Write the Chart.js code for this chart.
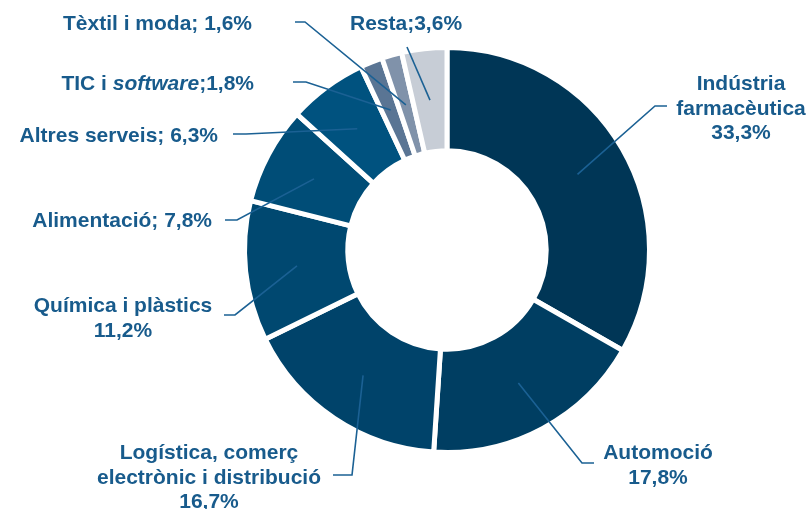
<!DOCTYPE html>
<html>
<head>
<meta charset="utf-8">
<script src="https://cdn.jsdelivr.net/npm/chart.js@4/dist/chart.umd.min.js"></script>
<style>
  html, body { margin: 0; padding: 0; background: #fff; }
  #wrap { width: 810px; height: 509px; position: relative; }
</style>
</head>
<body>
<div id="wrap"><canvas id="chart" width="810" height="509"></canvas></div>
<script>
// sectors, clockwise from 12 o'clock
const categories = [
  'Indústria farmacèutica', 'Automoció', 'Logística, comerç electrònic i distribució',
  'Química i plàstics', 'Alimentació', 'Altres serveis', 'TIC i software',
  'Tèxtil i moda', 'Resta'
]
const shares = [33.3, 17.8, 16.7, 11.2, 7.8, 6.3, 1.8, 1.6, 3.6]
const sliceColors = [
  '#003656', '#003e62', '#00436a', '#004870', '#004d77', '#00527f',
  '#5a7594', '#8092aa', '#c7cdd6'
]

// label lines; {v} is replaced by the share, *...* is set in italics
const labelLines = [
  ['Indústria', 'farmacèutica', '{v}'],
  ['Automoció', '{v}'],
  ['Logística, comerç', 'electrònic i distribució', '{v}'],
  ['Química i plàstics', '{v}'],
  ['Alimentació; {v}'],
  ['Altres serveis; {v}'],
  ['TIC i *software*;{v}'],
  ['Tèxtil i moda; {v}'],
  ['Resta;{v}']
]

// where each label sits and how its leader bends (leader starts at the slice centre)
const labelLayout = [
  { x: 741, y: 90, align: 'center', bend: [[655, 106], [667, 106]] },
  { x: 658, y: 459, align: 'center', bend: [[582, 463], [594, 463]] },
  { x: 209, y: 459, align: 'center', bend: [[352, 475], [333, 475]] },
  { x: 123, y: 312, align: 'center', bend: [[235, 315], [224, 315]] },
  { x: 212, y: 227, align: 'right', bend: [[237, 220], [225, 220]] },
  { x: 218, y: 142, align: 'right', bend: [[246, 134], [233, 134]] },
  { x: 254, y: 90, align: 'right', bend: [[306, 82], [293, 82]] },
  { x: 252, y: 30, align: 'right', bend: [[305, 22], [295, 22]] },
  { x: 350, y: 30, align: 'left', bend: [[407, 47]] }
]

const FONT = '"Liberation Sans", Arial, sans-serif'
const TEXT_COLOR = '#185b8c'
const LINE_COLOR = '#1b6194'
const LINE_HEIGHT = 24.5

function fmt (v) {
  return v.toFixed(1).replace('.', ',') + '%'
}

// split a line into plain / italic runs
function runs (line) {
  return line.split('*').map((t, i) => ({ text: t, italic: i % 2 === 1 })).filter(r => r.text)
}

function setFont (ctx, italic) {
  ctx.font = (italic ? 'italic ' : '') + 'bold 21px ' + FONT
}

function lineWidth (ctx, parts) {
  let w = 0
  parts.forEach(p => { setFont(ctx, p.italic); w += ctx.measureText(p.text).width })
  return w
}

const leaderLabels = {
  id: 'leaderLabels',
  afterDatasetsDraw (chart) {
    const ctx = chart.ctx
    const arcs = chart.getDatasetMeta(0).data
    ctx.save()

    // leaders
    ctx.strokeStyle = LINE_COLOR
    ctx.lineWidth = 1.6
    arcs.forEach((arc, i) => {
      const c = arc.getCenterPoint()
      ctx.beginPath()
      ctx.moveTo(c.x, c.y)
      labelLayout[i].bend.forEach(p => ctx.lineTo(p[0], p[1]))
      ctx.stroke()
    })

    // texts
    ctx.fillStyle = TEXT_COLOR
    ctx.textBaseline = 'alphabetic'
    ctx.textAlign = 'left'
    labelLines.forEach((lines, i) => {
      const lay = labelLayout[i]
      lines.forEach((raw, k) => {
        const parts = runs(raw.replace('{v}', fmt(shares[i])))
        const w = lineWidth(ctx, parts)
        let x = lay.x
        if (lay.align === 'center') x -= w / 2
        else if (lay.align === 'right') x -= w
        const y = lay.y + k * LINE_HEIGHT
        parts.forEach(p => {
          setFont(ctx, p.italic)
          ctx.fillText(p.text, x, y)
          x += ctx.measureText(p.text).width
        })
      })
    })
    ctx.restore()
  }
}

const ctx = document.getElementById('chart')

new Chart(ctx, {
  type: 'doughnut',
  data: {
    labels: categories,
    datasets: [{
      data: shares,
      backgroundColor: sliceColors,
      borderColor: '#ffffff',
      borderWidth: 5
    }]
  },
  options: {
    responsive: false,
    animation: false,
    events: [],
    cutout: '49%',
    layout: {
      padding: { left: 242, top: 45, right: 158, bottom: 54 }
    },
    plugins: {
      legend: { display: false },
      tooltip: { enabled: false }
    }
  },
  plugins: [leaderLabels]
})
</script>
</body>
</html>
